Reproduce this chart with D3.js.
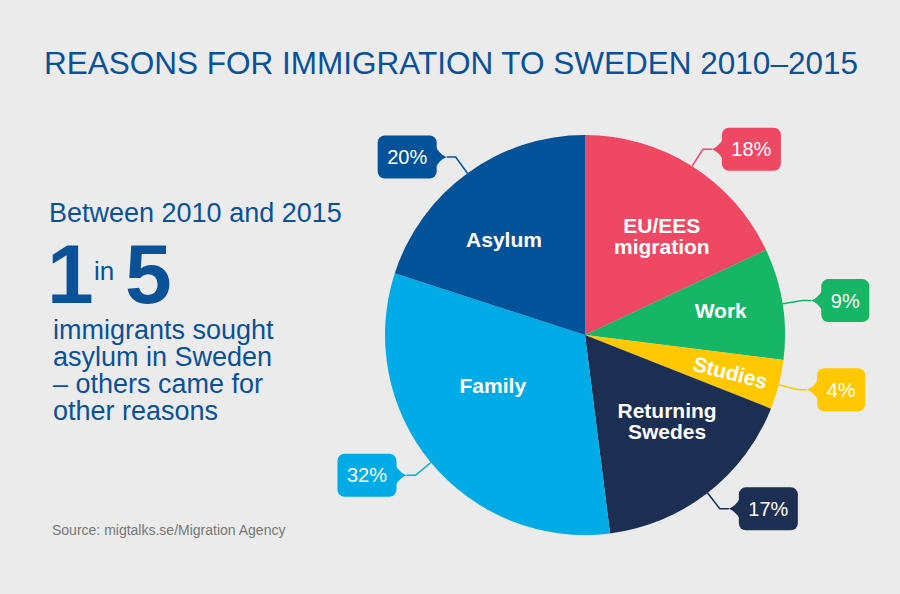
<!DOCTYPE html>
<meta charset="utf-8">
<head>
  <title>Reasons for immigration to Sweden</title>
  <style>
    html, body { margin: 0; padding: 0; background: #ebebeb; }
    body { font-family: "Liberation Sans", Arial, Helvetica, sans-serif; }
    svg text { font-family: "Liberation Sans", Arial, Helvetica, sans-serif; }
  </style>
  <script src="https://d3js.org/d3.v7.min.js"></script>
</head>
<body>
  <svg id="chart" width="900" height="594"></svg>

  <script>
// data, clockwise from 12 o'clock
var categories = ["EU/EES migration", "Work", "Studies", "Returning Swedes", "Family", "Asylum"];
var shares = [18, 9, 4, 17, 32, 20];
var labelLines = [["EU/EES", "migration"], ["Work"], ["Studies"], ["Returning", "Swedes"], ["Family"], ["Asylum"]];
var colors = ["#ee4864", "#17b566", "#ffc800", "#1c2e51", "#00abe6", "#03529a"];

var svg = d3.select("#chart");
var blue = "#0b5197";

svg.append("rect").attr("width", 900).attr("height", 594).attr("fill", "#ebebeb");

// title
svg.append("text")
  .attr("x", 44).attr("y", 74)
  .attr("fill", blue)
  .style("font-size", "31.5px")
  .text("REASONS FOR IMMIGRATION TO SWEDEN 2010\u20132015");

// left hand text block
svg.append("text")
  .attr("x", 49).attr("y", 222)
  .attr("fill", blue)
  .style("font-size", "27px")
  .text("Between 2010 and 2015");

var big = svg.append("text").attr("y", 303).attr("fill", blue);
big.append("tspan").attr("x", 47).style("font-size", "84px").style("font-weight", "bold").text("1");
big.append("tspan").attr("x", 94).attr("dy", -23).style("font-size", "26px").text("in");
big.append("tspan").attr("x", 125).attr("dy", 23).style("font-size", "84px").style("font-weight", "bold").text("5");

var para = ["immigrants sought", "asylum in Sweden", "\u2013 others came for", "other reasons"];
svg.append("g").selectAll("text")
  .data(para)
  .join("text")
  .attr("x", 53)
  .attr("y", function(d, i) { return 339 + i * 27; })
  .attr("fill", blue)
  .style("font-size", "27px")
  .text(function(d) { return d; });

svg.append("text")
  .attr("x", 52).attr("y", 535)
  .attr("fill", "#777")
  .style("font-size", "14px")
  .text("Source: migtalks.se/Migration Agency");

// pie
var cx = 585, cy = 335, R = 200;
var g = svg.append("g").attr("transform", "translate(" + cx + "," + cy + ")");

var pie = d3.pie().sort(null).value(function(d) { return d; });
var arcs = pie(shares);
var arc = d3.arc().innerRadius(0).outerRadius(R);

g.selectAll("path.slice")
  .data(arcs)
  .join("path")
  .attr("class", "slice")
  .attr("d", arc)
  .attr("fill", function(d, i) { return colors[i]; });

// label placement: radius and angle nudge (degrees) per slice
var labelPos = [
  { r: 125, da: 5.5, rot: false },
  { r: 138, da: -1.4, rot: false },
  { r: 150, da: 0, rot: true },
  { r: 119, da: -5.8, rot: false },
  { r: 105, da: 11, rot: false },
  { r: 125, da: -4.4, rot: false }
];

function polar(r, a) { return [r * Math.sin(a), -r * Math.cos(a)]; }
function mid(d) { return (d.startAngle + d.endAngle) / 2; }

var lab = g.selectAll("text.slice-label")
  .data(arcs)
  .join("text")
  .attr("class", "slice-label")
  .attr("fill", "#fff")
  .attr("text-anchor", "middle")
  .style("font-size", "21px")
  .style("font-weight", "bold")
  .attr("transform", function(d, i) {
    var lp = labelPos[i];
    var a = mid(d) + lp.da * Math.PI / 180;
    var p = polar(lp.r, a);
    var t = "translate(" + p[0] + "," + p[1] + ")";
    if (lp.rot) t += " rotate(" + (a * 180 / Math.PI - 90) + ")";
    return t;
  });

lab.selectAll("tspan")
  .data(function(d, i) { return labelLines[i].map(function(s, j, all) { return { s: s, j: j, n: all.length }; }); })
  .join("tspan")
  .attr("x", 0)
  .attr("y", function(d) { return (d.j - (d.n - 1) / 2) * 21; })
  .attr("dy", "0.36em")
  .text(function(d) { return d.s; });

// callouts with leader lines
var elbowR = 220, run = 9, gap = 10, boxH = 43;

arcs.forEach(function(d, i) {
  var a = mid(d);
  var p0 = polar(R, a);
  var p1 = polar(elbowR, a);
  var dir = p1[0] >= 0 ? 1 : -1;
  var tip = [p1[0] + dir * run, p1[1]];
  var col = colors[i];

  g.append("path")
    .attr("d", "M" + p0 + "L" + p1 + "L" + tip)
    .attr("fill", "none")
    .attr("stroke", col)
    .attr("stroke-width", 1.5);

  var cg = g.append("g");
  var txt = cg.append("text")
    .attr("fill", "#fff")
    .attr("text-anchor", "middle")
    .attr("dy", "0.36em")
    .style("font-size", "20px")
    .text(shares[i] + "%");
  var tw = txt.node().getComputedTextLength();
  var bw = Math.round(tw + 19);
  var bx = dir > 0 ? tip[0] + gap : tip[0] - gap - bw;
  var by = tip[1] - boxH / 2;
  var edge = dir > 0 ? bx : bx + bw;

  cg.insert("rect", "text")
    .attr("x", bx).attr("y", by)
    .attr("width", bw).attr("height", boxH)
    .attr("rx", 7)
    .attr("fill", col);
  cg.insert("path", "text")
    .attr("d", "M" + tip[0] + "," + tip[1] +
      "Q" + (edge - dir * 4) + "," + (tip[1] - 2) + " " + (edge + dir * 1) + "," + (tip[1] - 10) +
      "L" + (edge + dir * 1) + "," + (tip[1] + 10) +
      "Q" + (edge - dir * 4) + "," + (tip[1] + 2) + " " + tip[0] + "," + tip[1] + "Z")
    .attr("fill", col);
  txt.attr("x", bx + bw / 2).attr("y", tip[1]);
});
  </script>
</body>
</html>
